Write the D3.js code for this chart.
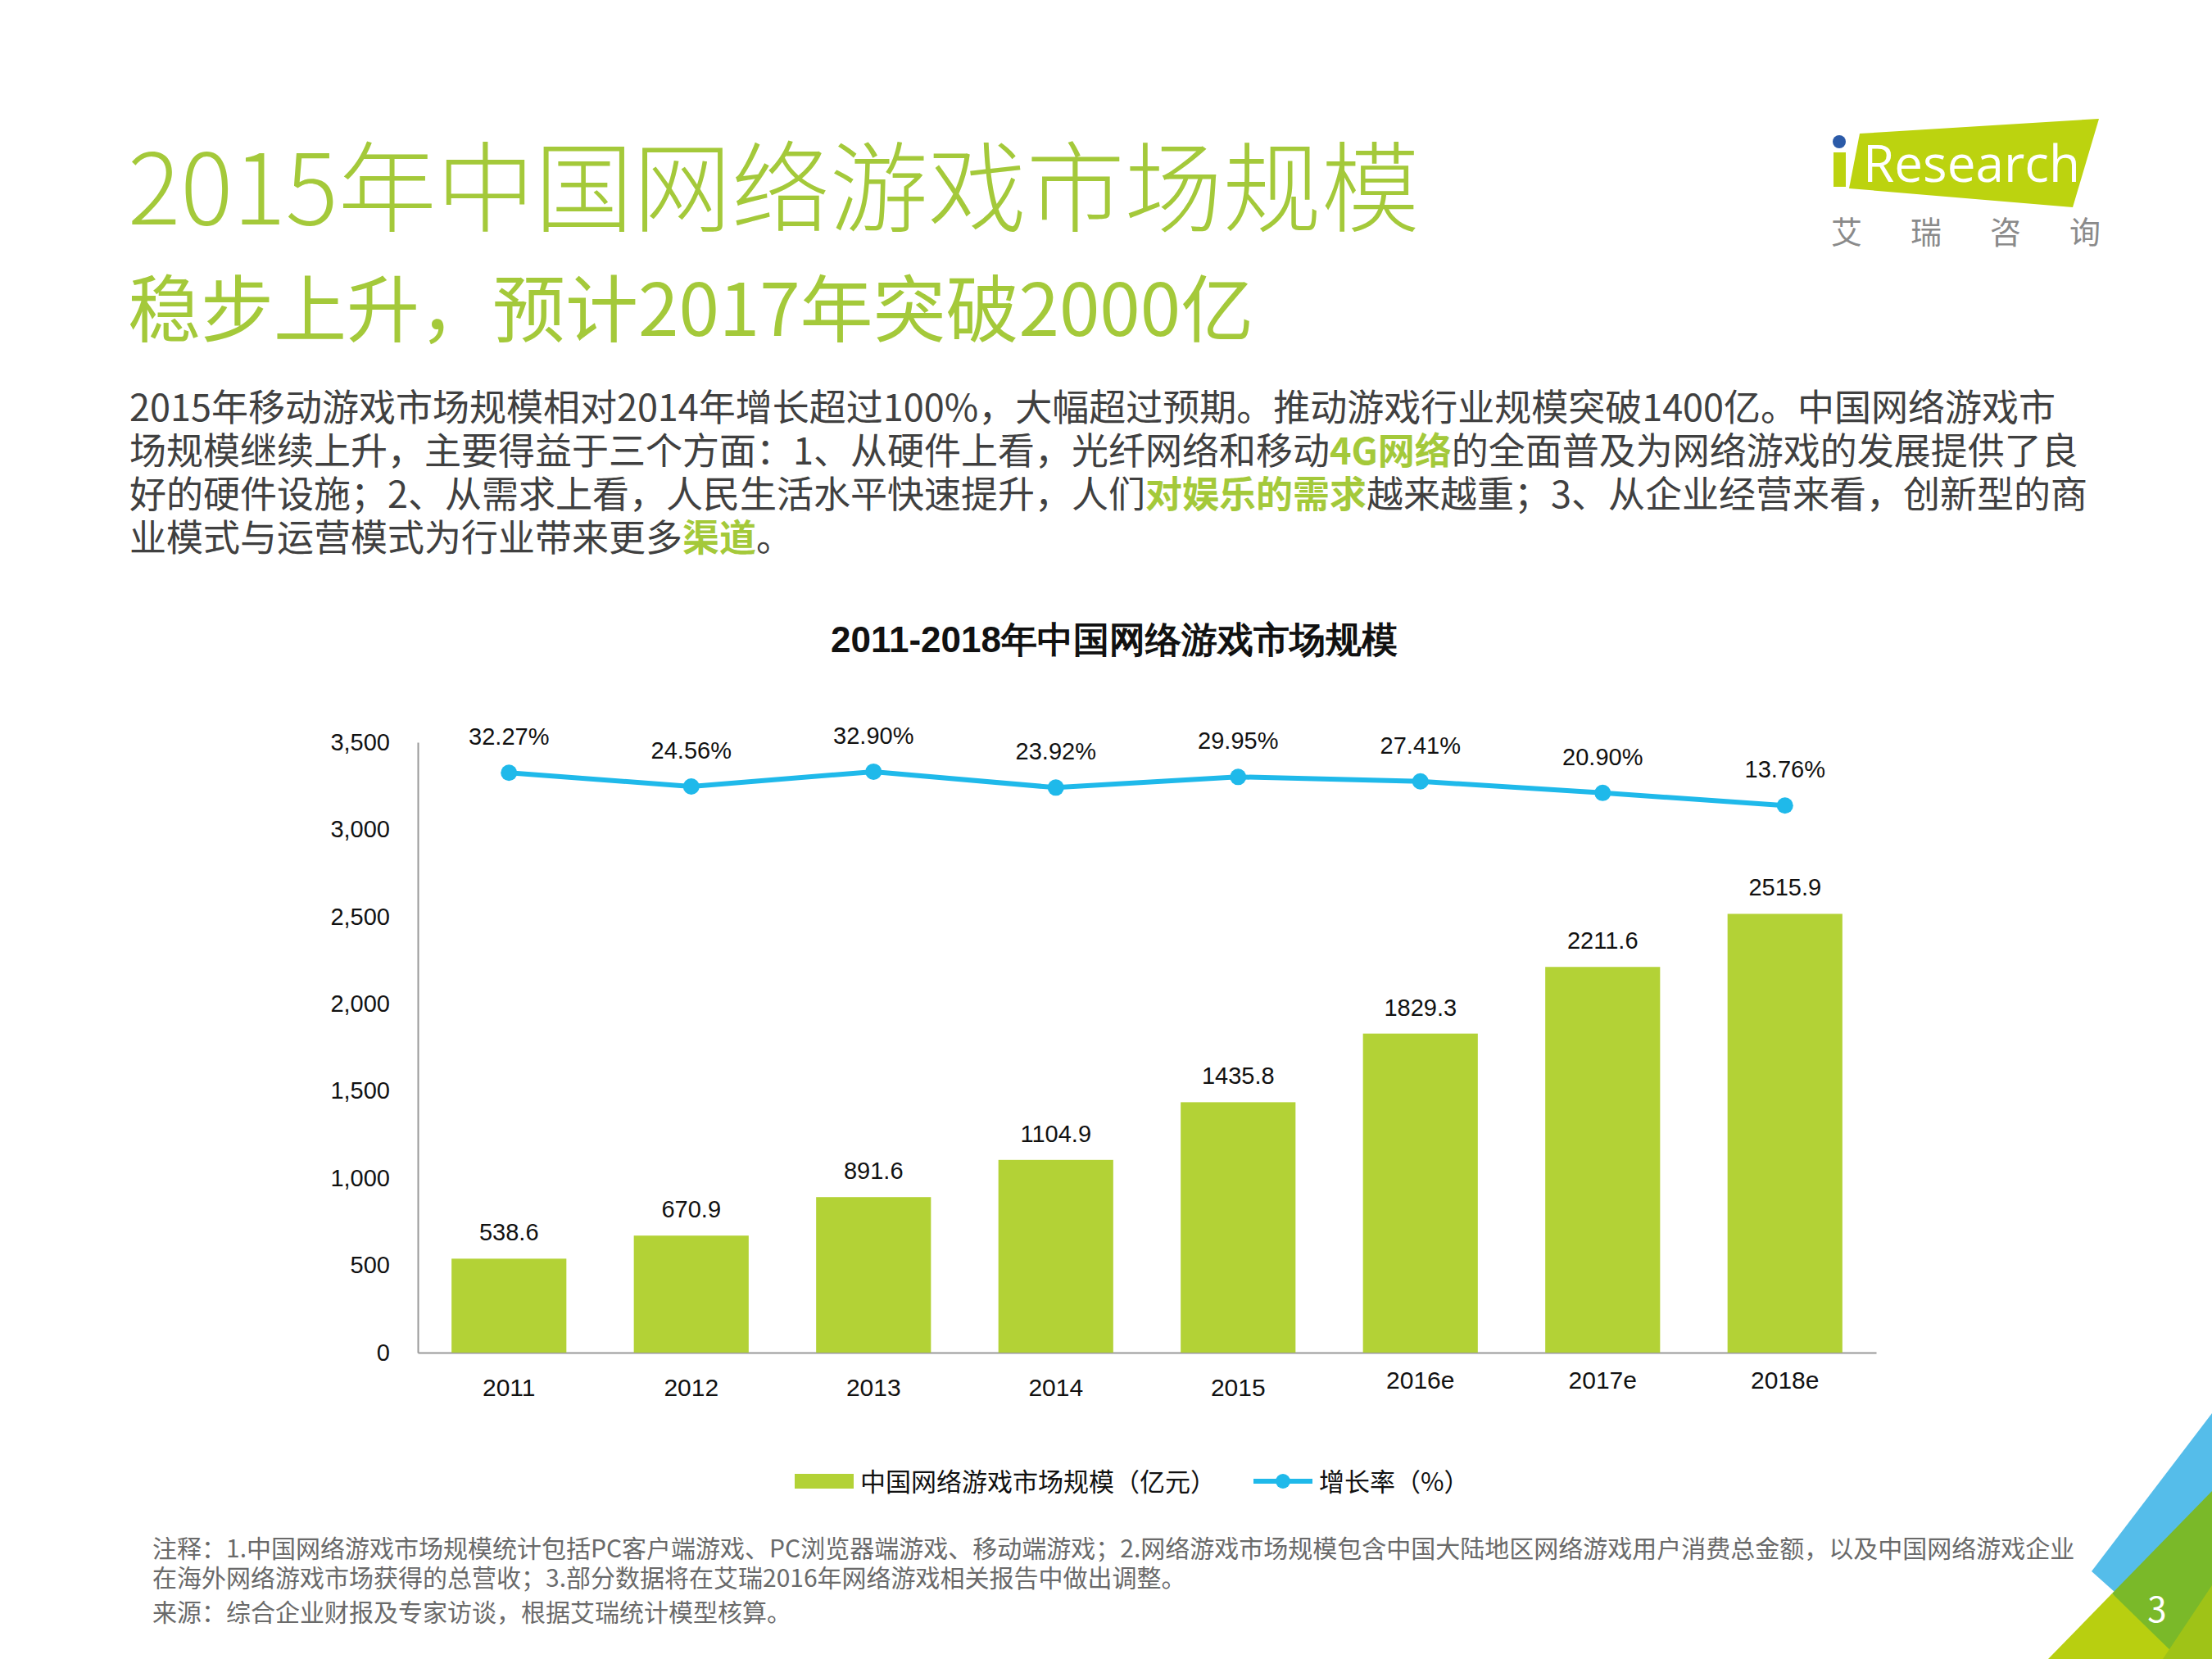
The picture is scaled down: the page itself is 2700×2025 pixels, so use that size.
<!DOCTYPE html>
<html lang="zh">
<head>
<meta charset="UTF-8">
<script src="https://d3js.org/d3.v7.min.js"></script>
<style>
  body { margin: 0; background: #fff; }
  svg { font-family: "Noto Sans CJK SC", "Noto Sans", sans-serif; }
</style>
</head>
<body>
<svg id="page" width="2700" height="2025"></svg>
<script>
const years = ["2011", "2012", "2013", "2014", "2015", "2016e", "2017e", "2018e"];
const marketSize = [538.6, 670.9, 891.6, 1104.9, 1435.8, 1829.3, 2211.6, 2515.9];
const growthRate = [32.27, 24.56, 32.90, 23.92, 29.95, 27.41, 20.90, 13.76];
const yTicks = [0, 500, 1000, 1500, 2000, 2500, 3000, 3500];

const green = "#b3d236";
const titleGreen = "#a4c93a";
const blue = "#1fb9ea";

const svg = d3.select("#page");

// corner decoration
svg.append("polygon").attr("points", "2553,1918 2700,1725 2700,1830 2600,1960").attr("fill", "#55bdea");
svg.append("polygon").attr("points", "2578,1945 2700,1820 2700,2025 2640,2025").attr("fill", "#7ab929");
svg.append("polygon").attr("points", "2500,2025 2578,1945 2660,2025").attr("fill", "#b8cf10");
svg.append("polygon").attr("points", "2640,2025 2700,1935 2700,2025").attr("fill", "#9fc317");
svg.append("text").attr("x", 2633).attr("y", 1980).attr("text-anchor", "middle")
  .attr("font-size", 42).attr("fill", "#fff").text("3");

// logo
svg.append("polygon").attr("points", "2270,163 2562,145 2530,253 2257,230").attr("fill", "#bcd30f");
svg.append("rect").attr("x", 2238).attr("y", 186).attr("width", 15).attr("height", 42).attr("fill", "#bcd30f");
svg.append("circle").attr("cx", 2245).attr("cy", 173).attr("r", 8).attr("fill", "#2b5aa8");
svg.append("text").attr("x", 2274).attr("y", 222).attr("font-family", "Open Sans, sans-serif")
  .attr("font-size", 62).attr("fill", "#fff").text("Research");
["艾", "瑞", "咨", "询"].forEach((c, i) => {
  svg.append("text").attr("x", 2254 + i * 97).attr("y", 297).attr("text-anchor", "middle")
    .attr("font-size", 38).attr("fill", "#8a8a8a").text(c);
});

// titles
svg.append("text").attr("x", 156).attr("y", 274).attr("font-size", 120).attr("fill", titleGreen)
  .attr("font-weight", 300).text("2015年中国网络游戏市场规模");
svg.append("text").attr("x", 156).attr("y", 410).attr("font-size", 89).attr("fill", titleGreen)
  .attr("font-weight", 400).text("稳步上升，预计2017年突破2000亿");

// paragraph
const para = [
  [["2015年移动游戏市场规模相对2014年增长超过100%，大幅超过预期。推动游戏行业规模突破1400亿。中国网络游戏市", 0]],
  [["场规模继续上升，主要得益于三个方面：1、从硬件上看，光纤网络和移动", 0], ["4G网络", 1], ["的全面普及为网络游戏的发展提供了良", 0]],
  [["好的硬件设施；2、从需求上看，人民生活水平快速提升，人们", 0], ["对娱乐的需求", 1], ["越来越重；3、从企业经营来看，创新型的商", 0]],
  [["业模式与运营模式为行业带来更多", 0], ["渠道", 1], ["。", 0]]
];
para.forEach((line, i) => {
  const t = svg.append("text").attr("x", 158).attr("y", 514 + i * 53).attr("font-size", 45).attr("fill", "#404040");
  line.forEach(([s, hi]) => {
    t.append("tspan").text(s).attr("fill", hi ? titleGreen : null).attr("font-weight", hi ? 700 : null);
  });
});

// chart title
svg.append("text").attr("x", 1360).attr("y", 796).attr("text-anchor", "middle")
  .attr("font-family", "Liberation Sans, Arial, sans-serif").attr("font-size", 44).attr("font-weight", 700)
  .attr("fill", "#111").text("2011-2018年中国网络游戏市场规模");

// chart
const plotLeft = 510, plotRight = 2290, plotTop = 906, plotBottom = 1651;
const x = d3.scaleBand().domain(years).range([plotLeft, plotRight]).paddingInner(0.37).paddingOuter(0.185);
const y = d3.scaleLinear().domain([0, 3500]).range([plotBottom, plotTop]);
const y2 = d3.scaleLinear().domain([0, 100]).range([1013, 797]);
const fontNum = "Liberation Sans, Arial, sans-serif";

svg.append("g").attr("transform", `translate(${plotLeft},0)`)
  .call(d3.axisLeft(y).tickValues(yTicks).tickFormat(d3.format(",")).tickSize(0).tickPadding(34))
  .call(g => g.select(".domain").attr("stroke", "#999").attr("stroke-width", 2))
  .call(g => g.selectAll("text").attr("font-family", fontNum).attr("font-size", 29).attr("fill", "#111"));

svg.append("g").attr("transform", `translate(0,${plotBottom})`)
  .call(d3.axisBottom(x).tickSize(0).tickPadding(30))
  .call(g => g.select(".domain").attr("stroke", "#999").attr("stroke-width", 2))
  .call(g => g.selectAll("text").attr("font-family", fontNum).attr("font-size", 30).attr("fill", "#111")
    .attr("dy", d => d.endsWith("e") ? "0.45em" : "0.75em"));

svg.append("g").selectAll("rect").data(marketSize).join("rect")
  .attr("x", (d, i) => x(years[i])).attr("width", x.bandwidth())
  .attr("y", d => y(d)).attr("height", d => plotBottom - y(d)).attr("fill", green);

svg.append("g").selectAll("text").data(marketSize).join("text")
  .attr("x", (d, i) => x(years[i]) + x.bandwidth() / 2).attr("y", d => y(d) - 22)
  .attr("text-anchor", "middle").attr("font-family", fontNum).attr("font-size", 29).attr("fill", "#111")
  .text(d => d.toFixed(1));

const cx = (d, i) => x(years[i]) + x.bandwidth() / 2;
svg.append("path").datum(growthRate)
  .attr("d", d3.line().x(cx).y(d => y2(d)))
  .attr("fill", "none").attr("stroke", blue).attr("stroke-width", 6);
svg.append("g").selectAll("circle").data(growthRate).join("circle")
  .attr("cx", cx).attr("cy", d => y2(d)).attr("r", 10).attr("fill", blue);
svg.append("g").selectAll("text").data(growthRate).join("text")
  .attr("x", cx).attr("y", d => y2(d) - 34)
  .attr("text-anchor", "middle").attr("font-family", fontNum).attr("font-size", 29).attr("fill", "#111")
  .text(d => d.toFixed(2) + "%");

// legend
const lg = svg.append("g");
lg.append("rect").attr("x", 970).attr("y", 1799).attr("width", 72).attr("height", 18).attr("fill", green);
lg.append("text").attr("x", 1050).attr("y", 1820).attr("font-size", 31).attr("fill", "#111").text("中国网络游戏市场规模（亿元）");
lg.append("line").attr("x1", 1530).attr("x2", 1602).attr("y1", 1808).attr("y2", 1808).attr("stroke", blue).attr("stroke-width", 6);
lg.append("circle").attr("cx", 1566).attr("cy", 1808).attr("r", 9).attr("fill", blue);
lg.append("text").attr("x", 1610).attr("y", 1820).attr("font-size", 31).attr("fill", "#111").text("增长率（%）");

// notes
const notes = [
  "注释：1.中国网络游戏市场规模统计包括PC客户端游戏、PC浏览器端游戏、移动端游戏；2.网络游戏市场规模包含中国大陆地区网络游戏用户消费总金额，以及中国网络游戏企业",
  "在海外网络游戏市场获得的总营收；3.部分数据将在艾瑞2016年网络游戏相关报告中做出调整。",
  "来源：综合企业财报及专家访谈，根据艾瑞统计模型核算。"
];
[1901, 1937, 1979].forEach((yy, i) => {
  svg.append("text").attr("x", 186).attr("y", yy).attr("font-size", 30).attr("fill", "#6a6a6a").text(notes[i]);
});
</script>
</body>
</html>
